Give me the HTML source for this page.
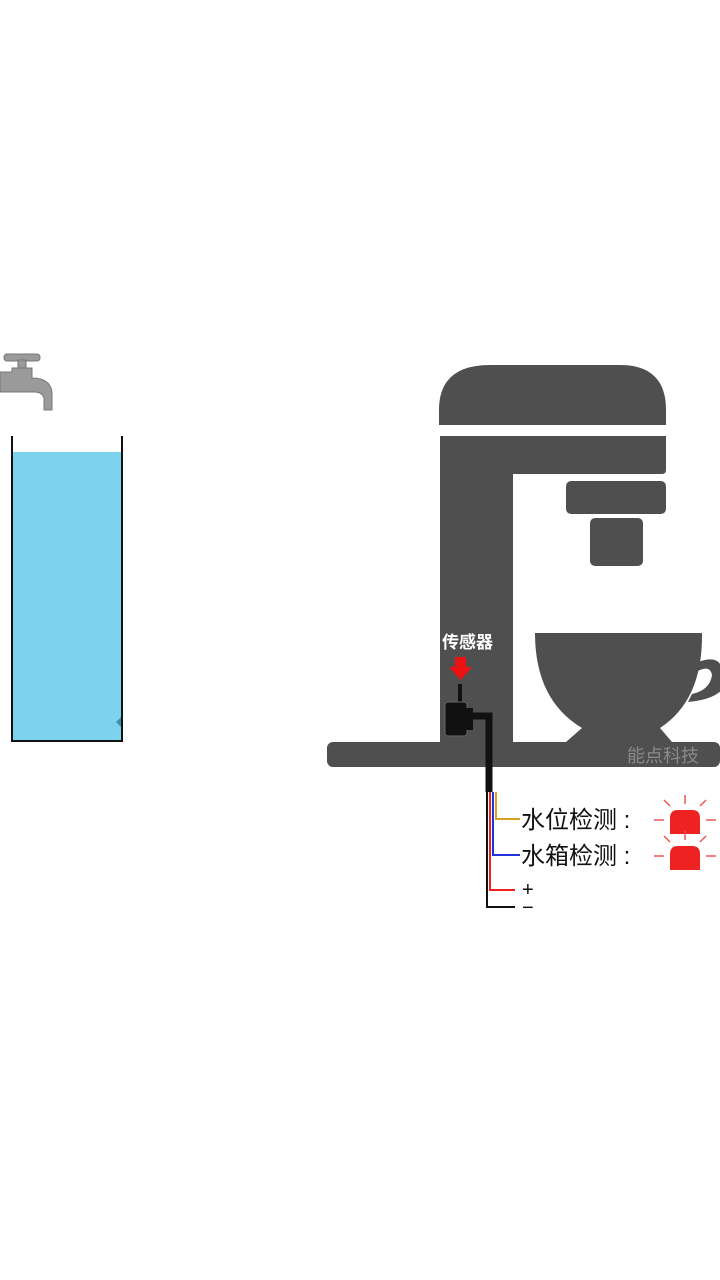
<!DOCTYPE html>
<html><head><meta charset="utf-8"><style>
body{margin:0;width:720px;height:1280px;background:#fff;overflow:hidden;position:relative;font-family:"Liberation Sans","Noto Sans CJK SC",sans-serif}
</style></head><body>
<svg width="720" height="1280" style="position:absolute;left:0;top:0">
<g fill="#9a9a9a" stroke="#777" stroke-width="1">
<rect x="4" y="354" width="36" height="7" rx="3"/>
<rect x="18" y="360" width="8" height="8"/>
<path d="M12 368 H32 V378 Q50 378 52 392 V410 H44 V398 Q42 392 34 392 H0 V372 H12 Z"/>
</g>
<rect x="12" y="452" width="110" height="288" fill="#7dd3ee"/>
<path d="M116 722 L122 716 L122 728 Z" fill="#3a8fb5"/>
<path d="M12 436 V741 H122 V436" fill="none" stroke="#111" stroke-width="2"/>
<g fill="#4f4f4f">
<path d="M439 425 V410 Q439 365 490 365 H620 Q666 365 666 410 V425 Z"/>
<path d="M440 436 H666 V470 Q666 474 662 474 H513 V742 H440 Z"/>
<rect x="566" y="481" width="100" height="33" rx="5"/>
<rect x="590" y="518" width="53" height="48" rx="5"/>
<rect x="327" y="742" width="393" height="25" rx="6"/>
<path d="M535 633 H702 Q703 700 660 728 L672 742 H566 L582 728 Q535 700 535 633 Z"/>
<path d="M698 662 Q720 654 722 670 L722 690 Q712 700 688 702 L692 694 Q710 690 712 675 Q710 664 696 672 Z"/>
</g>
<text x="627" y="762" font-size="18" fill="#8a8a8a">能点科技</text>
<text x="442" y="648" font-size="17" font-weight="bold" fill="#fff">传感器</text>
<path d="M455 657 H466 V667 H472 L460.5 680 L449 667 H455 Z" fill="#e11"/>
<rect x="458" y="684" width="4" height="52" fill="#111"/>
<rect x="445" y="702" width="22" height="34" rx="3" fill="#111" stroke="#666" stroke-width="1"/>
<rect x="465" y="708" width="8" height="22" fill="#111"/>
<path d="M472 716 H489 V792" fill="none" stroke="#111" stroke-width="7"/>
<path d="M487 792 V907 H515" fill="none" stroke="#111" stroke-width="2"/>
<path d="M490 792 V890 H515" fill="none" stroke="#e22" stroke-width="2"/>
<path d="M496 792 V819 H520" fill="none" stroke="#d6a020" stroke-width="2"/>
<path d="M493 792 V855 H520" fill="none" stroke="#2233dd" stroke-width="2"/>
<text x="521" y="828" font-size="24" fill="#111">水位检测 :</text>
<text x="521" y="864" font-size="24" fill="#111">水箱检测 :</text>
<text x="522" y="896" font-size="20" fill="#111">+</text>
<text x="522" y="914" font-size="20" fill="#111">−</text>
<g id="al">
<path d="M670 834 V818 Q670 810 678 810 H692 Q700 810 700 818 V834 Z" fill="#e22"/>
<g stroke="#e55" stroke-width="1.5"><line x1="654" y1="820" x2="664" y2="820"/><line x1="706" y1="820" x2="716" y2="820"/><line x1="685" y1="795" x2="685" y2="804"/><line x1="664" y1="800" x2="670" y2="806"/><line x1="706" y1="800" x2="700" y2="806"/></g>
</g>
<use href="#al" y="36"/>
</svg>
</body></html>
